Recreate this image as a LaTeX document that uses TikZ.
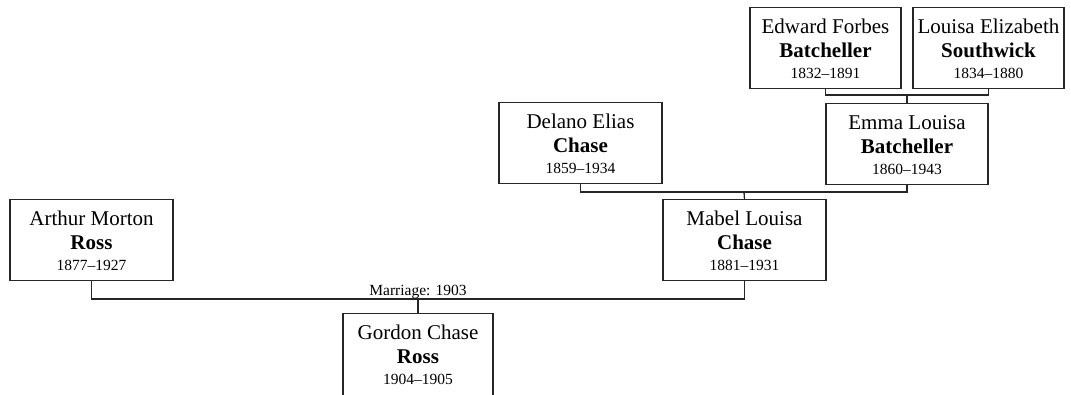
\documentclass[tikz,border=0pt]{standalone}
\usepackage{fontspec}
\setmainfont{Liberation Serif}
\begin{document}
\begin{tikzpicture}[x=1pt,y=-1pt,
  pbox/.style={draw=black!85,line width=1.3pt,fill=white,minimum height=81pt,inner sep=0pt,anchor=north},
  fname/.style={anchor=base,inner sep=0pt,font=\fontsize{21}{24}\selectfont},
  lname/.style={anchor=base,inner sep=0pt,font=\fontsize{21}{24}\selectfont\bfseries},
  dname/.style={anchor=base,inner sep=0pt,font=\fontsize{15.5}{18}\selectfont},
  link/.style={draw=black!85,line width=1.3pt}]
\useasboundingbox (0,0) rectangle (1071,394);
\newcommand\person[8][81]{%
  \node[pbox,minimum width=#5pt,minimum height=#1pt] (#2) at (#3,#4) {};
  \node[fname] (#2f) at ([yshift=-26pt]#2.north) {#6};
  \node[lname] (#2l) at ([yshift=-50pt]#2.north) {#7};
  \node[dname] (#2d) at ([yshift=-71pt]#2.north) {#8};}
\coordinate (j1) at (907,95);
\coordinate (j2) at (744,192);
\coordinate (j3) at (418,299);
\person{ed}{825.5}{7}{151}{Edward Forbes}{Batcheller}{1832–1891}
\person{lo}{988.5}{7}{151}{Louisa Elizabeth}{Southwick}{1834–1880}
\person{em}{907}{103}{162}{Emma Louisa}{Batcheller}{1860–1943}
\person{de}{580.5}{102}{163}{Delano Elias}{Chase}{1859–1934}
\person{ma}{744.5}{199}{163}{Mabel Louisa}{Chase}{1881–1931}
\person{ar}{91.5}{199}{163}{Arthur Morton}{Ross}{1877–1927}
\person[86]{go}{418}{313}{150}{Gordon Chase}{Ross}{1904–1905}
\draw[link] (ed.south) |- (j1) -| (lo.south);
\draw[link] (j1) -- (em.north);
\draw[link] (de.south) |- (j2) -| (em.south);
\draw[link] (j2) -- (ma.north);
\draw[link] (ar.south) |- (j3) -| (ma.south);
\draw[link] (j3) -- (go.north);
\node[dname] (mar) at (418,295) {Marriage: 1903};
\end{tikzpicture}
\end{document}
